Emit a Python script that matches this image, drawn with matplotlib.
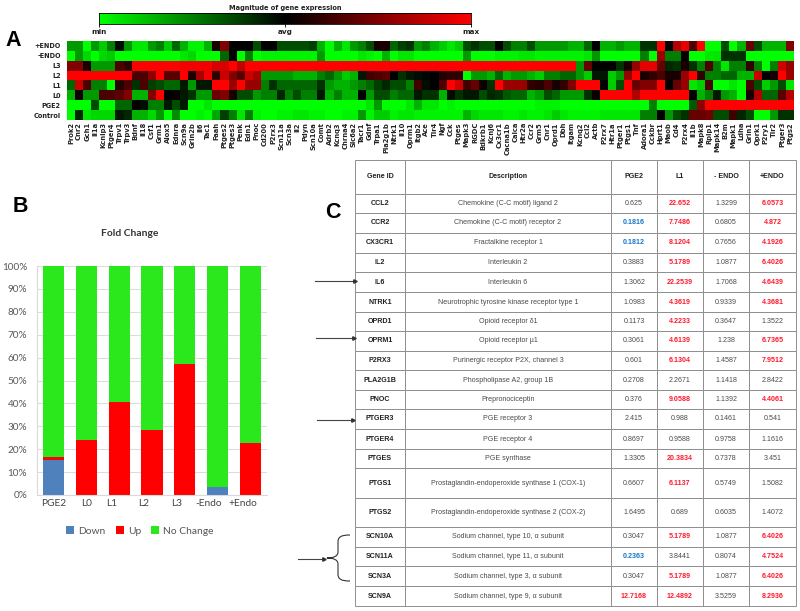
import numpy as np
import matplotlib
matplotlib.use('Agg')
import matplotlib.pyplot as plt
from matplotlib.colors import LinearSegmentedColormap
from matplotlib.path import Path
from matplotlib.patches import PathPatch

# heatmap data, -1 = min (green), 0 = avg (black), 1 = max (red)
conditions = ['+ENDO', '-ENDO', 'L3', 'L2', 'L1', 'L0', 'PGE2', 'Control']
genes = ['Prok2', 'Cnr2', 'Gch1', 'Il1a', 'Kcnip3', 'Ptger4', 'Trpv1', 'Trpv3', 'Bdnf', 'Il18',
         'Csf1', 'Grm1', 'Alox5', 'Ednra', 'Scn9a', 'Grin2b', 'Il6', 'Tac1', 'Faah', 'Ptges2',
         'Ptges3', 'Penk', 'Edn1', 'Pnoc', 'Cd200', 'P2rx3', 'Scn11a', 'Scn3a', 'Il2', 'Pdyn',
         'Scn10a', 'Comt', 'Adrb2', 'Kcnq3', 'Chrna4', 'Slc6a2', 'Tacr1', 'Gdnf', 'Trpa1', 'Pla2g1b',
         'Ntrk1', 'Il10', 'Oprm1', 'Itgb2', 'Ace', 'Tlr4', 'Ngf', 'Cck', 'Ptges', 'Mapk3',
         'RGDC', 'Bdkrb1', 'Kcnj6', 'Cx3cr1', 'Cacna1b', 'Calca', 'Htr2a', 'Ccr2', 'Grm5', 'Cnr1',
         'Oprd1', 'Dbh', 'Itgam', 'Kcnq2', 'Ccl2', 'Actb', 'P2rx7', 'Htr1a', 'Ptger1', 'Ptgs1',
         'Tnf', 'Adora1', 'Cckbr', 'Hprt1', 'Maob', 'Cd4', 'P2rx4', 'Il1b', 'Mapk8', 'Rplp1',
         'Mapk14', 'B2m', 'Mapk1', 'Ldha', 'Grin1', 'Oprk1', 'P2ry1', 'Tlr2', 'Ptger3', 'Ptgs2']

plus_endo = [-.6, -.6, -1, -.6, -.8, -.5, -.05, -.6, -.9, -.9,
             -.6, -.5, -.8, -.4, -.7, -.95, -.95, -.7, .1, .5,
             0, 0, 0, -.3, 0, 0, -.3, -.3, -.3, -.3,
             -.25, -.7, -1, -.7, -.9, -.6, -.5, -.3, .1, .1,
             -.4, -.25, -.2, -.6, -.5, -.7, -.8, -.9, -.8, -.3,
             -.2, -.3, -.3, 0, -.3, -.5, -.5, -.3, -.6, -.6,
             -.6, -.6, -.7, -.7, -.4, 0, -.7, -.7, -.6, -.7,
             -.7, -.2, -.2, 1, 0, .7, .9, .3, 1, -1,
             -1, -.3, -1, -.7, .4, -.3, -.7, -.7, -.7, .5]
minus_endo = [-1, -.6, -.85, -1, -.85, -.8, -1, -1, -1, -1,
              -1, -1, -1, -1, -.9, -.85, -1, -1, -1, -.4,
              0, -1, -.5, -1, -.95, -.95, -.95, -.95, -.95, -.95,
              -.95, -.6, -1, -1, -1, -1, -.9, -.95, -1, -.7,
              -1, -.9, -.9, -1, -1, -1, -1, -1, -1, -.6,
              -1, -1, -1, -.95, -.95, -.95, -.9, -.9, -.95, -.95,
              -.95, -.95, -.95, -.95, -.9, -.6, -1, -1, -1, -1,
              -1, -.5, -1, .6, -.5, -.5, 0, -1, -1, -.9,
              -.9, -.2, -.2, -.2, -1, -1, -1, -1, -1, -1]
l3 = [.5, .5, .1, -.6, -.6, -.6, .3, .2, 1, 1,
      1, 1, 1, 1, .95, .95, .95, .95, .85, .85,
      1, .75, 1, 1, 1, 1, 1, 1, 1, 1,
      1, 1, 1, 1, 1, 1, 1, 1, 1, 1,
      1, 1, 1, 1, 1, 1, 1, 1, 1, 1,
      1, 1, 1, 1, 1, 1, 1, 1, 1, 1,
      1, 1, 1, -.6, .4, 0, 0, 0, -.2, .1,
      .6, .9, .9, .4, -.15, -.2, .1, -.2, -.5, .3,
      -.5, -.9, -.5, -.5, .2, -.5, -1, -.5, .8, .6]
l2 = [1, 1, 1, 1, 1, 1, 1, 1, .3, .3,
      .55, 1, .35, .35, 1, .12, .65, .95, .2, .8,
      .5, .35, .8, .65, -.6, -.6, -.6, -.6, -.7, -.7,
      -.7, -.5, -.4, -.6, -.8, -.7, -.1, .25, .3, .35,
      0, -.2, -.1, -.05, -.03, 0, .15, .2, .2, -1,
      -.6, -.6, -.7, -.4, -.7, -.6, -.6, -.7, -.8, -.5,
      -.5, -.4, -.4, -.6, -.8, -.1, -.1, -.8, -.6, .6,
      1, .1, .2, .3, .1, .1, .6, 1, .2, -.5,
      -.5, -.4, -.4, -.7, -.7, .8, 0, .1, 1, .6]
l1 = [-.4, .8, .3, -.5, -.5, -1, .15, .3, -.2, .3,
      -.25, -.3, -.4, -.4, -.1, -.6, -.1, -.1, 1, 1,
      .6, 1, .6, .6, -.5, -.2, -.4, -.4, -.4, -.4,
      -.4, -.2, -.6, -.7, -.7, -.6, -.5, -.4, -.25, -.15,
      -.3, -.3, -.5, .25, -.05, 0, .3, 1, .8, .25,
      .4, .05, -.2, 1, .6, .6, .6, .2, .15, .3,
      .1, .2, .5, 1, 1, 1, 0, -.8, -.3, 1,
      .4, .5, .5, 1, 0, .4, .6, -.9, -.8, .3,
      -1, -1, -.9, -1, .3, -.3, -.8, -.6, -.3, -.9]
l0 = [-.7, .05, -.6, -.6, .3, .3, .35, .5, -.7, -.7,
      .5, 1, 0, .03, -.1, -.2, -.6, -.6, .4, .5,
      .1, -.3, -.3, -.6, -.5, -.5, -.15, -.5, -.3, -.5,
      -.5, -.1, -.7, -.5, -.7, -.7, 0, -.6, -.3, -.3,
      -.5, -.4, -.4, -.1, -.2, -.2, -.7, -.05, -.2, -.1,
      -.1, -.3, -.15, -.2, -.35, -.4, -.4, -.7, -.6, -.3,
      -.4, -.6, -.6, -.6, -.2, .05, 1, 1, 1, 1,
      .7, 1, 1, 1, 1, 1, 1, 0, -.7, -.5,
      -.1, -.6, -.7, -1, .1, .7, -.4, -.4, .35, .7]
pge2 = [-1, -1, -1, -.3, -1, -1, -.4, -.4, .02, -.05,
        -.5, -.5, -.1, -.3, -.1, -1, -1, -.9, -1, -1,
        -1, -1, -1, -1, -1, -1, -1, -1, -1, -1,
        -1, -1, -1, -1, -1, -1, -1, -.9, -.6, -1,
        -1, -1, -.9, -.7, -.9, -.9, -1, -.95, -1, -1,
        -1, -1, -1, -1, -1, -1, -1, -1, -.95, -.95,
        -.95, -1, -1, -1, -1, -1, -1, -1, -1, -1,
        -1, -1, -.5, -1, -1, -1, -1, -.35, .55, 1,
        1, 1, 1, 1, 1, 1, 1, 1, 1, 1]
control = [-1, -.15, -.9, -.85, -.85, -.85, -.1, -.15, -.7, -.7,
           -.85, -.6, -1, -.55, -1, -1, -.95, -1, -.65, -.25,
           -.5, -.9, -.5, -.95, -1, -1, -.95, -.95, -.9, -.9,
           -.95, -.95, -1, -1, -.95, -.95, -.6, -.95, -.8, -.8,
           -.95, -.9, -.9, -.95, -.95, -.95, -.95, -.95, -.95, -.7,
           -.85, -.9, -.9, -.9, -.95, -.95, -.9, -.95, -.95, -.9,
           -.8, -.9, -.95, -.95, -.95, -.95, -.9, -.9, -.9, -.9,
           -.9, -.5, -.5, 0, -.6, -.3, -.2, .4, .4, .45,
           -.3, -.3, .25, -.15, -.3, -1, -1, -.6, -.2, -.2]

# fold change bars (percent of genes)
bar_labels = ['PGE2', 'L0', 'L1', 'L2', 'L3', '-Endo', '+Endo']
down = [15.5, 0, 0, 0, 0, 3.5, 0]
up = [1, 24, 40.5, 28.5, 57, 0, 22.5]
no_change = [83.5, 76, 59.5, 71.5, 43, 96.5, 77.5]

# table
table_head = ['Gene ID', 'Description', 'PGE2', 'L1', '- ENDO', '+ENDO']
gene_ids = ['CCL2', 'CCR2', 'CX3CR1', 'IL2', 'IL6', 'NTRK1', 'OPRD1', 'OPRM1', 'P2RX3', 'PLA2G1B',
            'PNOC', 'PTGER3', 'PTGER4', 'PTGES', 'PTGS1', 'PTGS2', 'SCN10A', 'SCN11A', 'SCN3A', 'SCN9A']
descriptions = ['Chemokine (C-C motif) ligand 2', 'Chemokine (C-C motif) receptor 2',
                'Fractalkine receptor 1', 'Interleukin 2', 'Interleukin 6',
                'Neurotrophic tyrosine kinase receptor type 1', 'Opioid receptor δ1',
                'Opioid receptor µ1', 'Purinergic receptor P2X, channel 3',
                'Phospholipase A2, group 1B', 'Prepronociceptin', 'PGE receptor 3', 'PGE receptor 4',
                'PGE synthase', 'Prostaglandin-endoperoxide synthase 1 (COX-1)',
                'Prostaglandin-endoperoxide synthase 2 (COX-2)', 'Sodium channel, type 10, α subunit',
                'Sodium channel, type 11, α subunit', 'Sodium channel, type 3, α subunit',
                'Sodium channel, type 9, α subunit']
col_pge2 = ['0.625', '0.1816', '0.1812', '0.3883', '1.3062', '1.0983', '0.1173', '0.3061', '0.601', '0.2708',
            '0.376', '2.415', '0.8697', '1.3305', '0.6607', '1.6495', '0.3047', '0.2363', '0.3047', '12.7168']
col_l1 = ['22.652', '7.7486', '8.1204', '5.1789', '22.2539', '4.3619', '4.2233', '4.6139', '6.1304', '2.2671',
          '9.0588', '0.988', '0.9588', '20.3834', '6.1137', '0.689', '5.1789', '3.8441', '5.1789', '12.4892']
col_minus = ['1.3299', '0.6805', '0.7656', '1.0877', '1.7068', '0.9339', '0.3647', '1.238', '1.4587', '1.1418',
             '1.1392', '0.1461', '0.9758', '0.7378', '0.5749', '0.6035', '1.0877', '0.8074', '1.0877', '3.5259']
col_plus = ['6.0573', '4.872', '4.1926', '6.4026', '4.6439', '4.3681', '1.3522', '6.7365', '7.9512', '2.8422',
            '4.4061', '0.541', '1.1616', '3.451', '1.5082', '1.4072', '6.4026', '4.7524', '6.4026', '8.2936']
blue_genes = ['CCR2', 'CX3CR1', 'SCN11A']

W, H = 800, 611
fig = plt.figure(figsize=(W / 100, H / 100), dpi=100)


def px_axes(x0, y0, x1, y1):
    # axes from pixel box, y measured from the top like in the image
    return fig.add_axes([x0 / W, 1 - y1 / H, (x1 - x0) / W, (y1 - y0) / H])


def fig_text(x, y, s, **kw):
    fig.text(x / W, 1 - y / H, s, **kw)


def arrow(x0, x1, y):
    fig.add_artist(plt.Line2D([x0 / W, x1 / W], [1 - y / H] * 2, color='#444444', lw=0.8))
    fig.add_artist(plt.Line2D([x1 / W], [1 - y / H], marker='>', ms=2.5, color='#333333'))


# panel A
cmap = LinearSegmentedColormap.from_list('gbr', ['#00ff00', '#000000', '#ff0000'])
ax = px_axes(67, 41, 794, 120)
matrix = np.array([plus_endo, minus_endo, l3, l2, l1, l0, pge2, control])
ax.imshow(matrix, cmap=cmap, vmin=-1, vmax=1, aspect='auto', interpolation='nearest')
ax.set_xticks(range(len(genes)))
ax.set_xticklabels(genes, rotation=90, fontsize=4.9, fontweight='bold', color='#222222')
ax.set_yticks(range(len(conditions)))
ax.set_yticklabels(conditions, fontsize=4.7, fontweight='bold', color='#222222')
ax.tick_params(axis='x', length=0, pad=1.5)
ax.tick_params(axis='y', length=0, pad=4.5)
for s in ax.spines.values():
    s.set_visible(False)

cb = px_axes(99, 13, 471, 24)
cb.imshow(np.linspace(-1, 1, 256)[None, :], cmap=cmap, aspect='auto', extent=[-1, 1, 0, 1])
cb.set_yticks([])
cb.set_xticks([-1, 0, 1])
cb.set_xticklabels(['min', 'avg', 'max'], fontsize=5.2, fontweight='bold', color='#222222')
cb.tick_params(length=2, width=0.6, pad=1.5)
for s in cb.spines.values():
    s.set_linewidth(0.6)
fig_text(285, 8, 'Magnitude of gene expression', fontsize=4.8, fontweight='bold',
         color='#222222', ha='center', va='center')

fig_text(13, 41, 'A', fontsize=15.5, fontweight='bold', family='Liberation Sans', ha='center', va='center')
fig_text(20, 206, 'B', fontsize=15.5, fontweight='bold', family='Liberation Sans', ha='center', va='center')
fig_text(333, 213, 'C', fontsize=15.5, fontweight='bold', family='Liberation Sans', ha='center', va='center')

# panel B
ax = px_axes(37, 266, 267, 495)
pos = np.arange(len(bar_labels))
down_arr, up_arr, same_arr = np.array(down), np.array(up), np.array(no_change)
ax.bar(pos, down_arr, 0.64, color='#4f81bd', label='Down', zorder=2)
ax.bar(pos, up_arr, 0.64, bottom=down_arr, color='#ff0000', label='Up', zorder=2)
ax.bar(pos, same_arr, 0.64, bottom=down_arr + up_arr, color='#2be81c', label='No Change', zorder=2)
ax.set_xlim(-0.5, 6.5)
ax.set_ylim(0, 100)
ax.set_yticks(range(0, 101, 10))
ax.set_yticklabels(['%d%%' % v for v in range(0, 101, 10)], fontsize=7.2, family='Lato', color='#595959')
ax.grid(axis='y', color='#dcdcdc', lw=0.8, zorder=0)
ax.tick_params(length=0, pad=7)
ax.set_xticks([])
for name, s in ax.spines.items():
    s.set_color('#d9d9d9')
    s.set_visible(name in ('left', 'bottom'))
# the category labels sit a bit left of their bars in the original
label_px = [54, 87, 112, 144, 177, 209, 243]
for px, lab in zip(label_px, bar_labels):
    fig_text(px, 503, lab, fontsize=7.3, family='Lato', color='#444444', ha='center', va='center')
fig_text(130, 233, 'Fold Change', fontsize=7.4, fontweight='bold', family='Lato', color='#333333',
         ha='center', va='center')
fig.legend(*ax.get_legend_handles_labels(), loc='center', bbox_to_anchor=(140 / W, 1 - 531 / H), ncol=3,
           frameon=False, handlelength=0.75, handleheight=0.75, handletextpad=0.4, columnspacing=1.0,
           prop={'family': 'Lato', 'size': 7.4}, labelcolor='#555555')

# panel C
ax = px_axes(355, 160, 796, 606)
ax.axis('off')
rows = list(zip(gene_ids, descriptions, col_pge2, col_l1, col_minus, col_plus))
col_px = [355, 405, 611, 657, 703, 749, 796]
row_px = [160, 194, 213, 233, 253, 272, 292, 312, 331, 351, 370, 390, 409, 429, 449, 468, 498, 527, 547, 566, 586, 606]
col_w = [(b - a) / 441 for a, b in zip(col_px, col_px[1:])]
tab = ax.table(cellText=[table_head] + [list(r) for r in rows], colWidths=col_w,
               cellLoc='center', bbox=[0, 0, 1, 1])
tab.auto_set_font_size(False)
for (r, c), cell in tab.get_celld().items():
    cell.set_height((row_px[r + 1] - row_px[r]) / 446)
    cell.set_edgecolor('#8f8f8f')
    cell.set_linewidth(0.7)
    txt = cell.get_text()
    txt.set_family('Liberation Sans')
    txt.set_fontsize(5.1)
    txt.set_color('#4a4a4a')
    if r == 0 or c == 0:
        txt.set_fontweight('bold')
        txt.set_color('#222222')
    elif c >= 2:
        val = float(txt.get_text())
        if val >= 4:
            txt.set_fontweight('bold')
            txt.set_color('#ff1a2e')
        elif c == 2 and gene_ids[r - 1] in blue_genes:
            txt.set_fontweight('bold')
            txt.set_color('#1a78c8')

arrow(315, 355, 281)
arrow(316, 354, 338)
arrow(317, 353, 420)
arrow(298, 324, 559)
brace = Path([(350, 535), (341, 535), (338, 537), (338, 542), (338, 546), (338, 550), (338, 552),
              (338, 556), (334, 558), (327, 558), (334, 558), (338, 560), (338, 564),
              (338, 568), (338, 570), (338, 574), (338, 579), (341, 581), (350, 581)],
             [Path.MOVETO] + [Path.CURVE4] * 18)
overlay = fig.add_axes([0, 0, 1, 1], facecolor='none')
overlay.set_xlim(0, W)
overlay.set_ylim(H, 0)
overlay.axis('off')
overlay.add_patch(PathPatch(brace, fc='none', ec='#333333', lw=0.8))

fig.savefig('out.png', dpi=100)
